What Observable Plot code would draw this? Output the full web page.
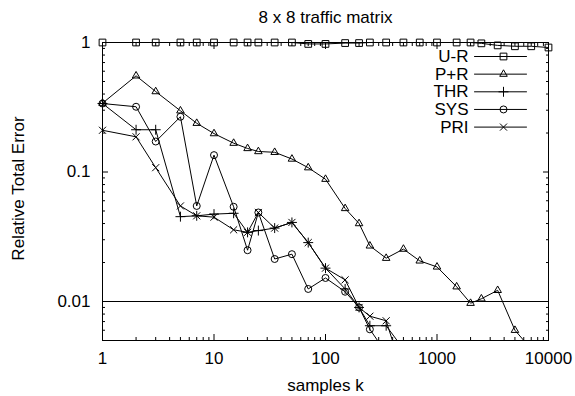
<!DOCTYPE html>
<html>
<head>
<meta charset="utf-8">
<script src="https://cdn.jsdelivr.net/npm/d3@7"></script>
<script src="https://cdn.jsdelivr.net/npm/@observablehq/plot@0.6"></script>
<style>
  html, body { margin: 0; padding: 0; background: white; }
</style>
</head>
<body>
<div id="chart"></div>
<script>
// ---- data ----
const title = "8 x 8 traffic matrix";
const xLabel = "samples k";
const yLabel = "Relative Total Error";
const seriesNames = ["U-R", "P+R", "THR", "SYS", "PRI"];
const samples = [1, 2, 3, 5, 7, 10, 15, 20, 25, 35, 50, 70, 100, 150, 200, 250, 350, 500, 700, 1000, 1500, 2000, 2500, 3500, 5000, 7000, 10000];
const ur  = [1, 1, 1, 1, 1, 1, 1, 1, 1, 1, 1, 0.975, 0.975, 0.99, 0.99, 1, 1, 1, 1, 1, 1, 1, 0.985, 0.95, 0.935, 0.935, 0.915];
const pr  = [0.34, 0.553, 0.418, 0.297, 0.238, 0.198, 0.167, 0.152, 0.144, 0.142, 0.126, 0.108, 0.088, 0.0523, 0.040, 0.0269, 0.0216, 0.0254, 0.0206, 0.0185, 0.0130, 0.0097, 0.0105, 0.0122, 0.0060, 0.0043, null];
const thr = [0.338, 0.212, 0.212, 0.0452, 0.0459, 0.0473, 0.048, 0.0342, 0.0353, 0.0369, 0.0408, 0.0285, 0.0181, 0.0125, 0.009, 0.0065, 0.0065, 0.0043, null, null, null, null, null, null, null, null, null];
const sys = [0.338, 0.319, 0.172, 0.267, 0.0547, 0.135, 0.0539, 0.0249, 0.0487, 0.0213, 0.0232, 0.0125, 0.0152, 0.0119, 0.009, 0.0061, 0.004, null, null, null, null, null, null, null, null, null, null];
const pri = [0.21, 0.187, 0.108, 0.0547, 0.0459, 0.0448, 0.0358, 0.0342, 0.0487, 0.0369, 0.0408, 0.0285, 0.0181, 0.0147, 0.009, 0.0077, 0.0071, 0.0027, null, null, null, null, null, null, null, null, null];
const xMajorTicks = [1, 10, 100, 1000, 10000];
const yMajorTicks = [0.01, 0.1, 1];
const yTickLabels = ["0.01", "0.1", "1"];
const refLine = [0.01];

// ---- build table ----
const seriesValues = [ur, pr, thr, sys, pri];
const rows = seriesNames.flatMap((name, i) =>
  samples.map((k, j) => ({series: name, k, value: seriesValues[i][j]}))
);

// ---- style ----
const symbolFor = ["square", "triangle", "plus", "circle", "times"];
const rFor = [3.8, 2.8, 3.3, 3.5, 3.3];
const yMin = 0.005, yMax = 1;
const xMinor = [];
for (let d = 1; d < 10000; d *= 10) for (let m = 2; m <= 9; m++) xMinor.push(d * m);
const yMinor = [];
for (let d = 0.001; d < 1; d *= 10) for (let m = 2; m <= 9; m++) { const v = +(d * m).toPrecision(3); if (v > yMin && v < yMax) yMinor.push(v); }

const font = '"Liberation Sans", Arial, Helvetica, sans-serif';
const fs = 17;
const lineShape = { draw(context, l) { context.moveTo(0, 0); context.lineTo(0, -l); } };

const marks = [
  Plot.ruleY(refLine, {stroke: "black", strokeWidth: 1}),
  // series lines
  Plot.line(rows.filter(d => d.value != null), {x: "k", y: "value", z: "series", stroke: "black", strokeWidth: 1, clip: true}),
  // markers
  ...seriesNames.map((name, i) =>
    Plot.dot(rows.filter(d => d.series === name && d.value != null && d.value >= yMin), {
      x: "k", y: "value", symbol: symbolFor[i], r: rFor[i], stroke: "black", fill: "none", strokeWidth: 1
    })
  ),
  // frame
  Plot.frame({stroke: "black", strokeWidth: 1}),
  // ticks (inward) left/right/bottom/top
  Plot.axisY({anchor: "left", ticks: yMajorTicks, tickSize: -6, tickFormat: () => "", label: null}),
  Plot.axisY({anchor: "left", ticks: yMinor, tickSize: -3, tickFormat: () => "", label: null}),
  Plot.axisY({anchor: "right", ticks: yMajorTicks, tickSize: -6, tickFormat: () => "", label: null}),
  Plot.axisY({anchor: "right", ticks: yMinor, tickSize: -3, tickFormat: () => "", label: null}),
  Plot.axisX({anchor: "bottom", ticks: xMajorTicks, tickSize: -6, tickFormat: () => "", label: null}),
  Plot.axisX({anchor: "bottom", ticks: xMinor, tickSize: -3, tickFormat: () => "", label: null}),
  Plot.axisX({anchor: "top", ticks: xMajorTicks, tickSize: -6, tickFormat: () => "", label: null}),
  Plot.axisX({anchor: "top", ticks: xMinor, tickSize: -3, tickFormat: () => "", label: null}),
  // tick labels
  Plot.axisY({anchor: "left", ticks: yMajorTicks, tickSize: 0, tickPadding: 12, fontSize: fs,
    tickFormat: d => yTickLabels[yMajorTicks.indexOf(d)], label: null}),
  Plot.axisX({anchor: "bottom", ticks: xMajorTicks, tickSize: 0, tickPadding: 11, fontSize: fs,
    tickFormat: d => String(d), label: null}),
  // titles
  Plot.text([title], {frameAnchor: "top", dy: -20, lineAnchor: "bottom", fontSize: fs, text: d => d}),
  Plot.text([xLabel], {frameAnchor: "bottom", dy: 50, lineAnchor: "bottom", fontSize: fs, text: d => d}),
  Plot.text([yLabel], {frameAnchor: "left", dx: -84, dy: -3, rotate: -90, textAnchor: "middle", lineAnchor: "middle", fontSize: fs, text: d => d}),
  // legend
  ...seriesNames.flatMap((name, i) => {
    const dy = 14 + 17.65 * i;
    return [
      Plot.text([name], {frameAnchor: "top-right", dx: -80, dy, textAnchor: "end", lineAnchor: "middle", fontSize: fs, text: d => d}),
      Plot.vector([name], {frameAnchor: "top-right", dx: -74, dy, length: 52, rotate: 90, anchor: "start", shape: lineShape, stroke: "black", strokeWidth: 1}),
      Plot.dot([name], {frameAnchor: "top-right", dx: -45, dy, symbol: symbolFor[i], r: rFor[i], stroke: "black", fill: "none", strokeWidth: 1})
    ];
  })
];

const chart = Plot.plot({
  width: 575,
  height: 396,
  marginLeft: 102,
  marginRight: 27,
  marginTop: 42,
  marginBottom: 56,
  style: {fontFamily: font, fontSize: fs + "px", background: "white", color: "black"},
  x: {type: "log", domain: [1, 10000]},
  y: {type: "log", domain: [yMin, yMax]},
  marks
});
document.getElementById("chart").appendChild(chart);
</script>
</body>
</html>
